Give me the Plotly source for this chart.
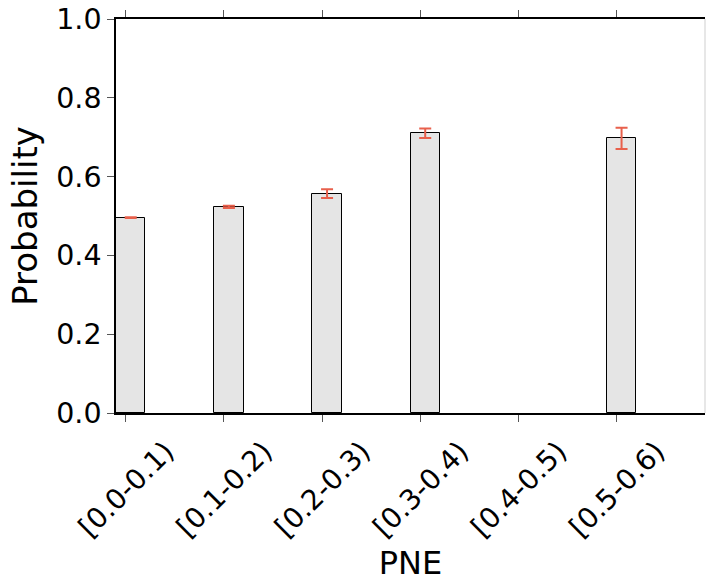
import numpy as np
import plotly.graph_objects as go

categories = ["[0.0-0.1)", "[0.1-0.2)", "[0.2-0.3)", "[0.3-0.4)", "[0.4-0.5)", "[0.5-0.6)"]
probability = [0.496, 0.523, 0.557, 0.710, None, 0.697]
error = [0.001, 0.003, 0.011, 0.012, None, 0.027]
y_ticks = [0.0, 0.2, 0.4, 0.6, 0.8, 1.0]

idx = np.arange(len(categories))
bar_width = 0.3

fig = go.Figure()
fig.add_trace(go.Bar(
    x=idx + bar_width / 2,
    y=probability,
    width=bar_width,
    marker=dict(color="#E5E5E5", line=dict(color="black", width=1)),
    error_y=dict(type="data", array=error, visible=True, color="#E8604C",
                 thickness=2, width=6),
    showlegend=False,
))

font_family = "DejaVu Sans"
fig.update_layout(
    width=706, height=582,
    margin=dict(l=116, r=1, t=19, b=169),
    plot_bgcolor="white", paper_bgcolor="white",
    font=dict(family=font_family, color="black"),
    bargap=0,
    shapes=[dict(type="line", xref="paper", yref="paper", x0=1, x1=1, y0=0, y1=1,
                 line=dict(color="#cfcfcf", width=1))],
)
fig.update_xaxes(
    range=[0, 6],
    tickmode="array",
    tickvals=idx + 0.1,
    ticktext=categories,
    tickangle=-45,
    ticklabelshift=40,
    ticklabelstandoff=2,
    ticks="outside", ticklen=7, tickwidth=1, tickcolor="#555555",
    tickfont=dict(size=28, family=font_family),
    showline=True, linecolor="black", linewidth=1.5, mirror="ticks",
    showgrid=False, zeroline=False,
    title=dict(text="PNE", font=dict(size=32, family=font_family), standoff=8),
)
fig.update_yaxes(
    range=[0, 1.0],
    tickmode="array",
    tickvals=y_ticks,
    ticktext=[f"{v:.1f}" for v in y_ticks],
    ticks="outside", ticklen=7, tickwidth=1, tickcolor="#555555",
    tickfont=dict(size=28.5, family=font_family),
    showline=True, linecolor="black", linewidth=1.5, mirror=False,
    showgrid=False, zeroline=False,
    title=dict(text="Probability", font=dict(size=34, family=font_family), standoff=8),
)

fig.write_html("out.html")
